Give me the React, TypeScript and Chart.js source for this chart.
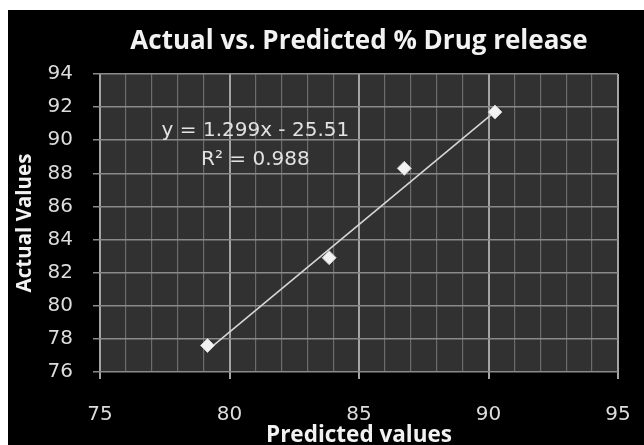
import { useEffect, useRef } from "react";
import { Chart, registerables } from "chart.js";

Chart.register(...registerables);

const predicted = [79.15, 83.85, 86.75, 90.25];
const actual = [77.6, 82.9, 88.3, 91.7];
const slope = 1.299;
const intercept = -25.51;
const equationLines = ["y = 1.299x - 25.51", "R\u00b2 = 0.988"];
const titleText = "Actual vs. Predicted % Drug release";
const xTitle = "Predicted values";
const yTitle = "Actual Values";

const FONT = "'Open Sans', 'DejaVu Sans', sans-serif";
const TICK_FONT = "'DejaVu Sans', sans-serif";

export default function App() {
  const ref = useRef<HTMLCanvasElement | null>(null);

  useEffect(() => {
    if (!ref.current) return;
    const xMin = Math.min(...predicted);
    const xMax = Math.max(...predicted);
    const trend = [
      { x: xMin, y: slope * xMin + intercept },
      { x: xMax, y: slope * xMax + intercept },
    ];
    const points = predicted.map((x, i) => ({ x, y: actual[i] }));

    const plotBg = {
      id: "plotBg",
      beforeDraw(chart: any) {
        const { ctx, chartArea: a } = chart;
        ctx.save();
        ctx.fillStyle = "#313131";
        ctx.fillRect(a.left, a.top, a.right - a.left, a.bottom - a.top);
        ctx.restore();
      },
      afterDatasetsDraw(chart: any) {
        const { ctx } = chart;
        const xs = chart.scales.x;
        const ys = chart.scales.y;
        ctx.save();
        ctx.fillStyle = "#e2e2e2";
        ctx.font = `20px ${TICK_FONT}`;
        ctx.textAlign = "center";
        ctx.textBaseline = "middle";
        const cx = xs.getPixelForValue(81.0);
        ctx.fillText(equationLines[0], cx, ys.getPixelForValue(90.55));
        ctx.fillText(equationLines[1], cx, ys.getPixelForValue(88.8));
        ctx.restore();
      },
    };

    const isMajor = (ctx: any) => ctx.tick && Math.round(ctx.tick.value) % 5 === 0;

    const chart = new Chart(ref.current, {
      type: "scatter",
      data: {
        datasets: [
          {
            type: "line",
            data: trend,
            borderColor: "#d6d6d6",
            borderWidth: 1.6,
            pointRadius: 0,
            fill: false,
            order: 2,
          } as any,
          {
            data: points,
            pointStyle: "rectRot",
            pointRadius: 7,
            backgroundColor: "#f2f2f2",
            borderColor: "#c8c8c8",
            borderWidth: 1,
            order: 1,
          },
        ],
      },
      options: {
        responsive: false,
        maintainAspectRatio: false,
        animation: false,
        layout: { padding: { left: 0, top: 0, bottom: 0, right: 26 } },
        plugins: {
          legend: { display: false },
          tooltip: { enabled: false },
          title: {
            display: true,
            fullSize: false,
            text: titleText,
            color: "#f2f2f2",
            font: { family: FONT, size: 26, weight: "bold" },
            padding: { top: 16, bottom: 16.8 },
          },
        },
        scales: {
          x: {
            type: "linear",
            min: 75,
            max: 95,
            afterFit(scale: any) {
              scale.height = 73;
              scale.paddingLeft = 0;
              scale.paddingRight = 0;
            },
            border: { display: false },
            grid: {
              color: (c: any) => (isMajor(c) ? "#a4a4a4" : "#6c6c6c"),
              lineWidth: (c: any) => (isMajor(c) ? 2 : 1.2),
              tickColor: (c: any) => (isMajor(c) ? "#a4a4a4" : "rgba(0,0,0,0)"),
              tickLength: 7,
            },
            ticks: {
              stepSize: 1,
              autoSkip: false,
              maxRotation: 0,
              padding: 24,
              color: "#dcdcdc",
              font: { family: TICK_FONT, size: 20 },
              callback: (v: any) => (Math.round(v) % 5 === 0 ? String(v) : ""),
            },
            title: {
              display: true,
              text: xTitle,
              color: "#f2f2f2",
              font: { family: FONT, size: 22.5, weight: "bold", lineHeight: 0.85 },
              padding: { top: 0, bottom: 0 },
            },
          },
          y: {
            type: "linear",
            min: 76,
            max: 94,
            afterFit(scale: any) {
              scale.width = 92;
            },
            border: { display: false },
            grid: {
              color: "#8a8a8a",
              lineWidth: 1.5,
              tickColor: "#8a8a8a",
              tickLength: 7,
            },
            ticks: {
              stepSize: 2,
              padding: 20,
              color: "#dcdcdc",
              font: { family: TICK_FONT, size: 20 },
            },
            title: {
              display: true,
              text: yTitle,
              color: "#f2f2f2",
              font: { family: FONT, size: 20.5, weight: "bold" },
              padding: { top: 4.7, bottom: 0 },
            },
          },
        },
      },
      plugins: [plotBg],
    });

    return () => chart.destroy();
  }, []);

  return (
    <div
      style={{
        position: "absolute",
        left: 8,
        top: 10,
        width: 636,
        height: 435,
        background: "#000",
      }}
    >
      <canvas ref={ref} width={636} height={435} style={{ display: "block" }} />
    </div>
  );
}
